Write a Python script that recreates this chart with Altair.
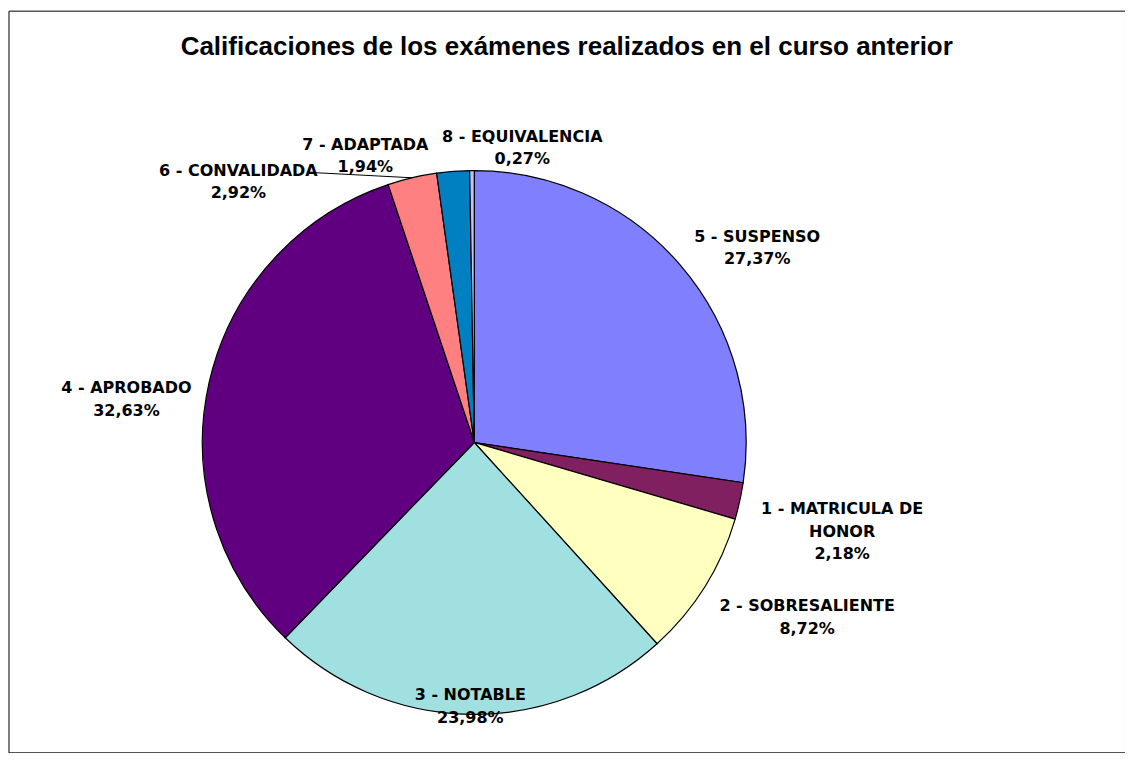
import math
import altair as alt
import pandas as pd

# ---------------- data ----------------
categories = [
    "5 - SUSPENSO",
    "1 - MATRICULA DE HONOR",
    "2 - SOBRESALIENTE",
    "3 - NOTABLE",
    "4 - APROBADO",
    "6 - CONVALIDADA",
    "7 - ADAPTADA",
    "8 - EQUIVALENCIA",
]
percent = [27.37, 2.18, 8.72, 23.98, 32.63, 2.92, 1.94, 0.27]
label_names = [
    "5 - SUSPENSO",
    "1 - MATRICULA DE\nHONOR",
    "2 - SOBRESALIENTE",
    "3 - NOTABLE",
    "4 - APROBADO",
    "6 - CONVALIDADA",
    "7 - ADAPTADA",
    "8 - EQUIVALENCIA",
]
title_text = "Calificaciones de los exámenes realizados en el curso anterior"

# ---------------- style ----------------
colors = ["#8080FF", "#802060", "#FFFFC0", "#A0E0E0", "#600080", "#FF8080", "#0080C0", "#C0C0FF"]
W, H = 1117, 742          # frame (view) size
CX, CY = 466, 432         # pie centre inside the view
R = 272                   # pie radius
# label block centre offsets from the pie centre (pixels)
label_offsets = {
    "5 - SUSPENSO": (283, -206),
    "1 - MATRICULA DE HONOR": (368, 67),
    "2 - SOBRESALIENTE": (333, 164),
    "3 - NOTABLE": (-4, 253),
    "4 - APROBADO": (-348, -54),
    "6 - CONVALIDADA": (-236, -272),
    "7 - ADAPTADA": (-109, -298),
    "8 - EQUIVALENCIA": (48, -306),
}
leader_start = {"6 - CONVALIDADA": (-161, -270)}

total = sum(percent)

rows = []
cum = 0.0
for i, (c, v, n) in enumerate(zip(categories, percent, label_names)):
    dx, dy = label_offsets[c]
    ang = math.atan2(dx, -dy) % (2 * math.pi)
    rows.append({
        "idx": i,
        "category": c,
        "value": v,
        "label": n + "\n" + f"{v:.2f}".replace(".", ",") + "%",
        "lt": ang / (2 * math.pi) * total,
        "lr": math.hypot(dx, dy),
        "mid": cum + v / 2,
    })
    cum += v
df = pd.DataFrame(rows)

lead_rows = []
for r in rows:
    if r["category"] in leader_start:
        sx, sy = leader_start[r["category"]]
        a = r["mid"] / total * 2 * math.pi
        lead_rows.append({
            "x1": CX + sx, "y1": CY + sy,
            "x2": CX + R * math.sin(a), "y2": CY - R * math.cos(a),
        })
lead_df = pd.DataFrame(lead_rows)

theta_scale = alt.Scale(domain=[0, total])

base = alt.Chart(df)

arcs = base.mark_arc(outerRadius=R, stroke="black", strokeWidth=1.2).encode(
    theta=alt.Theta("value:Q", stack=True, scale=theta_scale),
    color=alt.Color("category:N", scale=alt.Scale(domain=categories, range=colors), legend=None),
    order=alt.Order("idx:Q"),
    x=alt.value(CX),
    y=alt.value(CY),
)

labels = base.mark_text(
    font="DejaVu Sans", fontSize=16, fontWeight="bold", color="black",
    align="center", baseline="middle", lineBreak="\n", lineHeight=22.5,
).encode(
    theta=alt.Theta("lt:Q", stack=None, scale=theta_scale),
    radius=alt.Radius("lr:Q", scale=None),
    text="label:N",
    x=alt.value(CX),
    y=alt.value(CY),
)

leader = alt.Chart(lead_df).mark_rule(color="black", strokeWidth=1).encode(
    x=alt.X("x1:Q", scale=None),
    y=alt.Y("y1:Q", scale=None),
    x2="x2:Q",
    y2="y2:Q",
)

chart = alt.layer(arcs, leader, labels).properties(
    width=W,
    height=H,
    autosize="none",
    background="white",
    padding={"left": 0.5, "top": 2.5, "right": 0, "bottom": 0},
    title=alt.Title(
        title_text, font="Liberation Sans", fontSize=26, fontWeight="bold",
        color="black", anchor="middle", baseline="alphabetic", offset=0, dy=70,
    ),
).configure_view(stroke="black", strokeWidth=1)

chart.save("out.html", embed_options={"renderer": "svg", "actions": False})
